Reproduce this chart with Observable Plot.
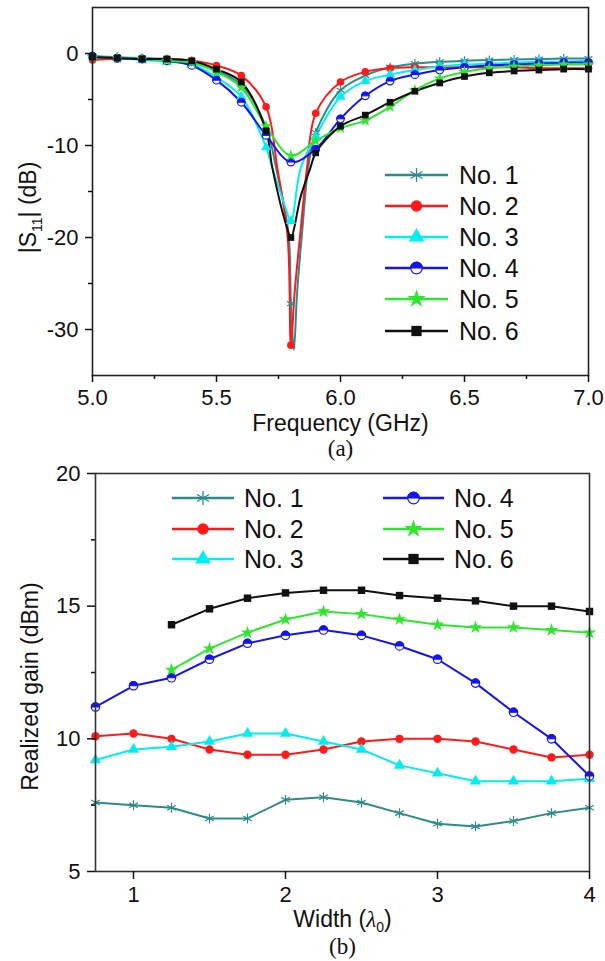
<!DOCTYPE html>
<html><head><meta charset="utf-8">
<script src="https://cdn.jsdelivr.net/npm/d3@7"></script>
<script src="https://cdn.jsdelivr.net/npm/@observablehq/plot@0.6"></script>
<style>
body{margin:0;background:#fff;}
#wrap{width:605px;}
#wrap svg{display:block;}
</style></head><body><div id="wrap"></div>
<script>
// ---------- shared ----------
const seriesNames = ["No. 1","No. 2","No. 3","No. 4","No. 5","No. 6"];
const seriesColors = ["#2e8b8b","#ff1a1a","#00eef2","#1414ee","#2ee62e","#111111"];
const seriesSymbols = ["asterisk","circle","triangle","half","star","square"];

// ---------- chart (a): |S11| vs frequency ----------
const freqA = [5.0,5.1,5.2,5.3,5.4,5.5,5.6,5.7,5.8,5.9,6.0,6.1,6.2,6.3,6.4,6.5,6.6,6.7,6.8,6.9,7.0];
const s11No1 = [-0.3,-0.4,-0.5,-0.6,-0.8,-1.9,-3.4,-8.0,-27.2,-8.6,-4.0,-2.4,-1.5,-1.1,-0.9,-0.8,-0.7,-0.65,-0.6,-0.55,-0.55];
const s11No2 = [-0.7,-0.6,-0.6,-0.6,-0.8,-1.3,-2.4,-5.8,-31.7,-6.5,-3.1,-2.0,-1.6,-1.5,-1.5,-1.5,-1.5,-1.5,-1.6,-1.6,-1.6];
const s11No3 = [-0.3,-0.5,-0.7,-0.9,-1.2,-2.6,-4.7,-10.2,-18.2,-9.0,-4.7,-3.0,-2.3,-1.8,-1.4,-1.2,-1.1,-1.0,-0.9,-0.9,-0.8];
const s11No4 = [-0.3,-0.5,-0.6,-0.8,-1.3,-2.9,-5.3,-8.9,-11.8,-10.4,-7.1,-4.6,-3.0,-2.3,-1.8,-1.5,-1.3,-1.2,-1.1,-1.0,-1.0];
const s11No5 = [-0.4,-0.5,-0.6,-0.8,-1.0,-2.0,-3.7,-7.9,-11.1,-9.5,-8.1,-7.3,-5.8,-4.0,-2.7,-2.0,-1.6,-1.4,-1.3,-1.2,-1.2];
const s11No6 = [-0.4,-0.5,-0.6,-0.6,-0.8,-1.7,-3.1,-8.4,-20.0,-10.8,-7.9,-6.7,-5.3,-4.1,-3.2,-2.5,-2.1,-1.9,-1.8,-1.7,-1.7];
// extra curve points read around the resonance dip (line only, no marker)
const dipFreqNo1 = [5.74,5.79,5.812,5.825,5.845,5.87];
const dipValNo1  = [-12.4,-19.5,-32.2,-26,-19.5,-12.4];
const dipFreqNo2 = [5.745,5.787,5.815,5.84,5.865];
const dipValNo2  = [-12.4,-20,-26,-19,-12.4];
const dipFreqNo3 = [5.725,5.775,5.84];
const dipValNo3  = [-12.4,-16.5,-12.4];
const dipFreqNo4 = [];
const dipValNo4  = [];
const dipFreqNo5 = [];
const dipValNo5  = [];
const dipFreqNo6 = [5.725,5.785,5.84,5.879];
const dipValNo6  = [-12.4,-19,-15.5,-12.4];

const ticksAx = [5.0,5.5,6.0,6.5,7.0];
const minorAx = [5.25,5.75,6.25,6.75];
const ticksAy = [0,-10,-20,-30];
const minorAy = [-5,-15,-25];

// ---------- chart (b): realized gain vs width ----------
const widthB = [0.75,1.0,1.25,1.5,1.75,2.0,2.25,2.5,2.75,3.0,3.25,3.5,3.75,4.0];
const gainNo1 = [7.6,7.5,7.4,7.0,7.0,7.7,7.8,7.6,7.2,6.8,6.7,6.9,7.2,7.4];
const gainNo2 = [10.1,10.2,10.0,9.6,9.4,9.4,9.6,9.9,10.0,10.0,9.9,9.6,9.3,9.4];
const gainNo3 = [9.2,9.6,9.7,9.9,10.2,10.2,9.9,9.6,9.0,8.7,8.4,8.4,8.4,8.5];
const gainNo4 = [11.2,12.0,12.3,13.0,13.6,13.9,14.1,13.9,13.5,13.0,12.1,11.0,10.0,8.6];
const gainNo5 = [null,null,12.6,13.4,14.0,14.5,14.8,14.7,14.5,14.3,14.2,14.2,14.1,14.0];
const gainNo6 = [null,null,14.3,14.9,15.3,15.5,15.6,15.6,15.4,15.3,15.2,15.0,15.0,14.8];

const ticksBx = [1,2,3,4];
const ticksBy = [5,10,15,20];
const minorBy = [7.5,12.5,17.5];

// ---------- helpers ----------
const halfTop = {draw(ctx, size){ const r = Math.sqrt(size/Math.PI); ctx.moveTo(r,0); ctx.arc(0,0,r,0,Math.PI,true); ctx.closePath(); }};
const sans = "'Liberation Sans', Arial, Helvetica, sans-serif";
const serif = "'Liberation Serif', 'Times New Roman', serif";

function dotMarks(data, i, x, y, r) {
  const c = seriesColors[i], s = seriesSymbols[i];
  if (s === "asterisk") return [Plot.dot(data, {x, y, r: r+0.5, symbol: "asterisk", stroke: c, fill: "none", strokeWidth: 1.2})];
  if (s === "half") return [
    Plot.dot(data, {x, y, r, symbol: "circle", stroke: c, fill: "white", strokeWidth: 1.2}),
    Plot.dot(data, {x, y, r, symbol: halfTop, fill: c, stroke: c, strokeWidth: 1})
  ];
  return [Plot.dot(data, {x, y, r, symbol: s, fill: c, stroke: "none"})];
}

function drawLegend(svg, items, fontSize) {
  const g = d3.select(svg).append("g").attr("text-anchor", "start");
  const typeMap = {asterisk: d3.symbolAsterisk, circle: d3.symbolCircle, triangle: d3.symbolTriangle, star: d3.symbolStar, square: d3.symbolSquare};
  for (const it of items) {
    const c = seriesColors[it.i], s = seriesSymbols[it.i];
    g.append("line").attr("x1", it.x1).attr("x2", it.x2).attr("y1", it.y).attr("y2", it.y)
      .attr("stroke", c).attr("stroke-width", 2.4);
    const cx = (it.x1 + it.x2) / 2, r = 5.8, size = Math.PI * r * r;
    const tr = `translate(${cx},${it.y})`;
    if (s === "asterisk") {
      g.append("path").attr("d", d3.symbol(d3.symbolAsterisk, size*1.3)()).attr("transform", tr).attr("stroke", c).attr("fill", "none").attr("stroke-width", 1.3);
    } else if (s === "half") {
      g.append("path").attr("d", d3.symbol(d3.symbolCircle, size)()).attr("transform", tr).attr("stroke", c).attr("fill", "white").attr("stroke-width", 1.3);
      g.append("path").attr("d", d3.symbol(halfTop, size)()).attr("transform", tr).attr("fill", c).attr("stroke", c);
    } else {
      g.append("path").attr("d", d3.symbol(typeMap[s], size)()).attr("transform", tr).attr("fill", c);
    }
    g.append("text").attr("x", it.tx).attr("y", it.y).attr("dy", "0.36em").attr("text-anchor", "start")
      .attr("font-size", fontSize).attr("fill", "#111").attr("font-family", sans).text(seriesNames[it.i]);
  }
}

// ---------- build chart (a) ----------
const s11All = [s11No1,s11No2,s11No3,s11No4,s11No5,s11No6];
const dipF = [dipFreqNo1,dipFreqNo2,dipFreqNo3,dipFreqNo4,dipFreqNo5,dipFreqNo6];
const dipV = [dipValNo1,dipValNo2,dipValNo3,dipValNo4,dipValNo5,dipValNo6];
const marksA = [];
const dotsA = [];
s11All.forEach((vals, i) => {
  const pts = freqA.map((f, k) => ({f, v: vals[k]}));
  const linePts = pts.concat(dipF[i].map((f, k) => ({f, v: dipV[i][k]}))).sort((a, b) => a.f - b.f);
  marksA.push(Plot.line(linePts, {x: "f", y: "v", stroke: seriesColors[i], strokeWidth: 2, curve: "catmull-rom"}));
  dotsA.push(...dotMarks(pts, i, "f", "v", 3.8));
});

const plotA = Plot.plot({
  width: 605, height: 462,
  marginLeft: 92, marginRight: 17, marginTop: 7, marginBottom: 87,
  style: {fontFamily: sans, fontSize: "22px", color: "#111", background: "white", overflow: "visible"},
  x: {domain: [5, 7]},
  y: {domain: [-35, 5]},
  marks: [
    ...marksA, ...dotsA,
    Plot.frame({stroke: "#222", strokeWidth: 1.6}),
    Plot.axisX(ticksAx, {tickSize: 7, tickPadding: 7, tickFormat: d => d.toFixed(1), label: null, strokeWidth: 1.5}),
    Plot.axisX(minorAx, {tickSize: 4, fill: "none", label: null, strokeWidth: 1.5}),
    Plot.axisY(ticksAy, {tickSize: 7, tickPadding: 7, tickFormat: d => String(d), label: null, strokeWidth: 1.5}),
    Plot.axisY(minorAy, {tickSize: 4, fill: "none", label: null, strokeWidth: 1.5}),
    Plot.text(["Frequency (GHz)"], {text: d => d, frameAnchor: "bottom", lineAnchor: "middle", dy: 48, fontSize: 23}),
    Plot.text(["(a)"], {text: d => d, frameAnchor: "bottom", lineAnchor: "middle", dy: 73, fontSize: 23, fontFamily: serif}),
    Plot.text(["|S11| (dB)"], {text: d => d, frameAnchor: "left", textAnchor: "middle", lineAnchor: "middle", dx: -64, dy: 16, rotate: -90, fontSize: 23})
  ]
});
d3.select(plotA).selectAll("text").filter(function(){ return this.textContent === "|S11| (dB)"; })
  .html('|S<tspan font-size="14" dy="6">11</tspan><tspan dy="-6">| (dB)</tspan>');
const legendRowsA = [175, 206, 237, 268, 299, 331];
drawLegend(plotA, seriesNames.map((n, i) => ({i, y: legendRowsA[i], x1: 385, x2: 448, tx: 459})), 25);
document.getElementById("wrap").appendChild(plotA);

// ---------- build chart (b) ----------
const gainAll = [gainNo1,gainNo2,gainNo3,gainNo4,gainNo5,gainNo6];
const marksB = [];
const dotsB = [];
gainAll.forEach((vals, i) => {
  const pts = widthB.map((w, k) => ({w, g: vals[k]})).filter(d => d.g != null);
  marksB.push(Plot.line(pts, {x: "w", y: "g", stroke: seriesColors[i], strokeWidth: 2}));
  dotsB.push(...dotMarks(pts, i, "w", "g", 4.2));
});

const plotB = Plot.plot({
  width: 605, height: 499,
  marginLeft: 95, marginRight: 16, marginTop: 11, marginBottom: 90,
  style: {fontFamily: sans, fontSize: "22px", color: "#111", background: "white", overflow: "visible"},
  x: {domain: [0.75, 4]},
  y: {domain: [5, 20]},
  marks: [
    ...marksB, ...dotsB,
    Plot.frame({stroke: "#333", strokeWidth: 1.6}),
    Plot.axisX(ticksBx, {tickSize: 8, tickPadding: 7, tickFormat: d => String(d), label: null, strokeWidth: 1.5}),
    Plot.axisY(ticksBy, {tickSize: 8, tickPadding: 7, tickFormat: d => String(d), label: null, strokeWidth: 1.5}),
    Plot.axisY(minorBy, {tickSize: 4, fill: "none", label: null, strokeWidth: 1.5}),
    Plot.text(["Width (λ0)"], {text: d => d, frameAnchor: "bottom", lineAnchor: "middle", dy: 48, fontSize: 23}),
    Plot.text(["(b)"], {text: d => d, frameAnchor: "bottom", lineAnchor: "middle", dy: 75, fontSize: 23, fontFamily: serif}),
    Plot.text(["Realized gain (dBm)"], {text: d => d, frameAnchor: "left", textAnchor: "middle", lineAnchor: "middle", dx: -65, dy: 14, rotate: -90, fontSize: 23})
  ]
});
d3.select(plotB).selectAll("text").filter(function(){ return this.textContent === "Width (λ0)"; })
  .html('Width (<tspan font-style="italic" font-family="\'Liberation Serif\', serif">λ</tspan><tspan font-size="14" dy="5">0</tspan><tspan dy="-5">)</tspan>');
const legendRowsB = [36, 67, 97];
drawLegend(plotB, seriesNames.map((n, i) => ({
  i, y: legendRowsB[i % 3],
  x1: i < 3 ? 172 : 383, x2: i < 3 ? 234 : 444, tx: i < 3 ? 244 : 454
})), 25);
document.getElementById("wrap").appendChild(plotB);
</script>
</body></html>
